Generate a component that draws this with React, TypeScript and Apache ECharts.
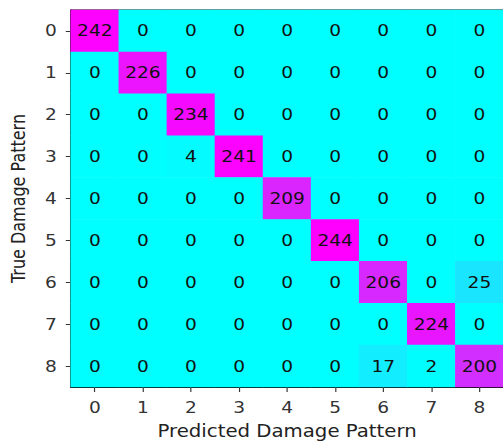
import React, { useEffect, useRef } from "react";
import * as echarts from "echarts";

const predictedLabels = ["0", "1", "2", "3", "4", "5", "6", "7", "8"];
const trueLabels = ["0", "1", "2", "3", "4", "5", "6", "7", "8"];

const row0 = [242, 0, 0, 0, 0, 0, 0, 0, 0];
const row1 = [0, 226, 0, 0, 0, 0, 0, 0, 0];
const row2 = [0, 0, 234, 0, 0, 0, 0, 0, 0];
const row3 = [0, 0, 4, 241, 0, 0, 0, 0, 0];
const row4 = [0, 0, 0, 0, 209, 0, 0, 0, 0];
const row5 = [0, 0, 0, 0, 0, 244, 0, 0, 0];
const row6 = [0, 0, 0, 0, 0, 0, 206, 0, 25];
const row7 = [0, 0, 0, 0, 0, 0, 0, 224, 0];
const row8 = [0, 0, 0, 0, 0, 0, 17, 2, 200];
const confusionRows = [row0, row1, row2, row3, row4, row5, row6, row7, row8];

const xTitle = "Predicted Damage Pattern";
const yTitle = "True Damage Pattern";

// the reference figure is stretched horizontally (non-square cells)
const STRETCH = 1.16;
const W = 503 / STRETCH;

export default function App() {
  const ref = useRef<HTMLDivElement>(null);
  useEffect(() => {
    if (!ref.current) return;
    const chart = echarts.init(ref.current, null, { renderer: "svg" });
    const data: number[][] = [];
    confusionRows.forEach((row, y) => row.forEach((v, x) => data.push([x, y, v])));
    const maxVal = Math.max(...data.map((d) => d[2]));
    const font = "DejaVu Sans";
    chart.setOption({
      animation: false,
      grid: {
        left: 67 / STRETCH,
        top: 10,
        width: 438 / STRETCH,
        height: 378,
        show: true,
        borderColor: "#000",
        borderWidth: 1,
        containLabel: false,
      },
      xAxis: {
        type: "category",
        data: predictedLabels,
        name: xTitle,
        nameLocation: "middle",
        nameGap: 35,
        nameTextStyle: { fontFamily: font, fontSize: 17, color: "#222" },
        axisLine: { show: true, lineStyle: { color: "#000", width: 1 } },
        axisTick: { show: true, alignWithLabel: true, length: 5, lineStyle: { color: "#333" } },
        axisLabel: { fontFamily: font, fontSize: 16, color: "#333", margin: 12 },
        splitArea: { show: false },
        splitLine: { show: false },
      },
      yAxis: {
        type: "category",
        data: trueLabels,
        inverse: true,
        name: yTitle,
        nameLocation: "middle",
        nameGap: 37,
        nameTextStyle: { fontFamily: font, fontSize: 16, color: "#222" },
        axisLine: { show: true, lineStyle: { color: "#000", width: 1 } },
        axisTick: { show: true, alignWithLabel: true, length: 5 / STRETCH, lineStyle: { color: "#333" } },
        axisLabel: { fontFamily: font, fontSize: 16, color: "#333", margin: 12 },
        splitArea: { show: false },
        splitLine: { show: false },
      },
      visualMap: {
        show: false,
        min: 0,
        max: maxVal,
        dimension: 2,
        inRange: { color: ["#00ffff", "#ff00ff"] },
      },
      series: [
        {
          type: "heatmap",
          data,
          label: {
            show: true,
            formatter: (p: any) => String(p.value[2]),
            fontFamily: font,
            fontSize: 16,
            color: "#111",
          },
          itemStyle: { borderWidth: 0 },
          emphasis: { disabled: true },
        },
      ],
    });
    return () => chart.dispose();
  }, []);
  return (
    <div style={{ position: "fixed", left: 0, top: 0, width: 503, height: 444, overflow: "hidden", background: "#fff" }}>
      <div
        ref={ref}
        style={{
          width: W,
          height: 444,
          transform: `scaleX(${STRETCH})`,
          transformOrigin: "0 0",
        }}
      />
    </div>
  );
}
